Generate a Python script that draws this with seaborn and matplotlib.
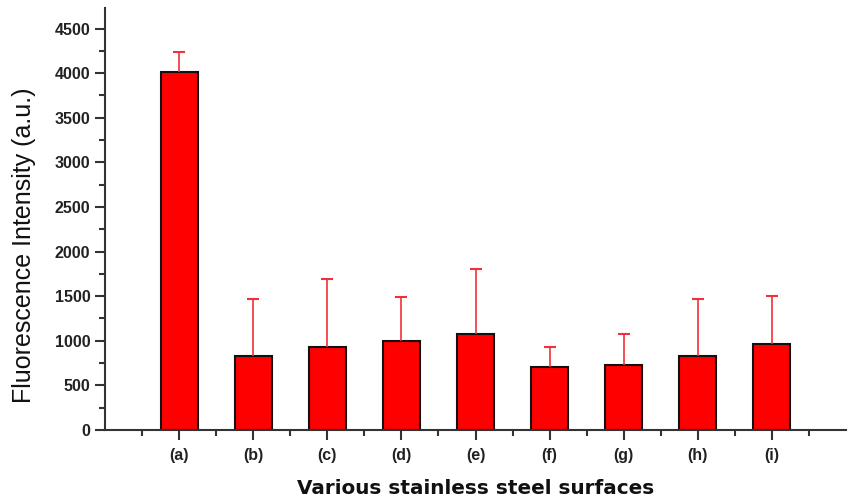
import numpy as np
import pandas as pd
import matplotlib
matplotlib.use("Agg")
import matplotlib.pyplot as plt
import seaborn as sns
from matplotlib.ticker import MultipleLocator

# -----------------------------
# Données
# -----------------------------
surfaces = ["(a)", "(b)", "(c)", "(d)", "(e)", "(f)", "(g)", "(h)", "(i)"]
intensity = [4010, 829, 926, 997, 1079, 709, 724, 825, 960]
error_top = [4240, 1467, 1688, 1486, 1803, 926, 1079, 1467, 1504]

df = pd.DataFrame({"surface": surfaces, "intensity": intensity})
err_up = np.array(error_top) - np.array(intensity)

sns.set_style("ticks")
plt.rcParams["font.family"] = ["Liberation Sans", "DejaVu Sans"]

fig = plt.figure(figsize=(8.49, 5), dpi=100)
ax = fig.add_axes([0.1237, 0.14, 0.8728, 0.844])

sns.barplot(data=df, x="surface", y="intensity", order=surfaces, color="#ff0000",
            saturation=1, width=0.5, edgecolor="#111111", linewidth=1.5,
            errorbar=None, ax=ax)

# barres d'erreur (vers le haut seulement)
_, caps, _ = ax.errorbar(np.arange(len(surfaces)), df["intensity"],
                         yerr=[np.zeros(len(surfaces)), err_up], fmt="none",
                         ecolor="#f0303a", elinewidth=1.2, capsize=4,
                         capthick=1.5, zorder=1)
caps[0].remove()  # pas de cap en bas

ax.set_xlim(-1, 9)
ax.set_ylim(0, 4730)
ax.yaxis.set_major_locator(MultipleLocator(500))
ax.yaxis.set_minor_locator(MultipleLocator(250))
ax.set_xticks(np.arange(-0.5, 9, 1), minor=True)

sns.despine(ax=ax)
for side in ["left", "bottom"]:
    ax.spines[side].set_color("#333333")
    ax.spines[side].set_linewidth(1.5)

ax.tick_params(axis="both", which="major", direction="out", length=7, width=1.5,
               color="#333333", labelsize=11.5)
ax.tick_params(axis="x", which="major", pad=6)
ax.tick_params(axis="both", which="minor", direction="out", length=4, width=1.5,
               color="#333333")
for lab in ax.get_xticklabels() + ax.get_yticklabels():
    lab.set_fontweight("bold")
    lab.set_color("#222222")

ax.set_ylabel("Fluorescence Intensity (a.u.)", fontsize=18, color="#111111")
ax.yaxis.label.set_va("center")
ax.yaxis.set_label_coords(-0.109, 0.438)

ax.set_xlabel("Various stainless steel surfaces", fontsize=14.4, fontweight="bold",
              family="DejaVu Sans", color="#111111")
ax.xaxis.set_label_coords(0.5, -0.152)
ax.xaxis.label.set_va("baseline")

fig.savefig("out.png", dpi=100)
